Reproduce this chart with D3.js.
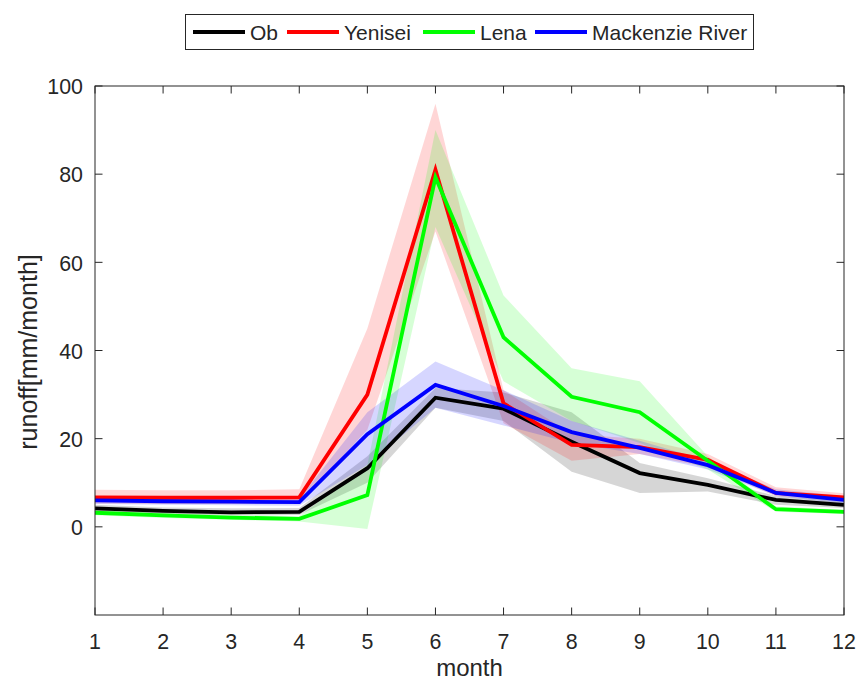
<!DOCTYPE html>
<html><head><meta charset="utf-8">
<script src="https://cdn.jsdelivr.net/npm/d3@7"></script>
<style>body{margin:0;background:#fff}svg{display:block}text{font-family:"Liberation Sans",Arial,Helvetica,sans-serif;fill:#262626}</style>
</head><body>
<script>
const months = [1,2,3,4,5,6,7,8,9,10,11,12];
const seriesNames = ["Ob","Yenisei","Lena","Mackenzie River"];
const seriesColors = ["#000000","#ff0000","#00ff00","#0000ff"];
const obMean   = [4.2,3.6,3.3,3.4,13.3,29.3,26.8,19.3,12.2,9.5,6.1,5.0];
const obUp     = [5.0,4.4,4.2,4.3,16.0,31.5,30.5,26.0,14.5,11.0,7.0,6.0];
const obLo     = [3.4,2.9,2.6,2.7,10.0,27.0,24.0,12.5,7.7,8.0,5.0,4.3];
const yenMean  = [6.7,6.6,6.6,6.7,30.0,81.0,28.0,18.6,18.1,15.2,7.7,6.7];
const yenUp    = [8.4,8.3,8.3,8.5,45.0,96.0,31.0,21.0,20.0,16.5,9.0,7.6];
const yenLo    = [5.3,5.2,5.2,5.3,22.0,67.0,23.5,15.0,16.5,13.5,7.0,5.9];
const lenaMean = [3.2,2.6,2.1,1.8,7.2,79.3,43.0,29.5,26.0,15.0,4.0,3.4];
const lenaUp   = [3.9,3.2,2.7,2.4,14.0,90.0,52.5,36.0,33.0,16.0,4.6,3.9];
const lenaLo   = [2.6,2.0,1.6,1.2,-0.5,68.0,33.0,24.0,19.0,13.0,3.4,2.9];
const macMean  = [6.0,5.8,5.7,5.6,21.0,32.2,27.4,21.5,17.9,14.0,7.7,6.1];
const macUp    = [6.8,6.6,6.5,6.4,26.0,37.5,31.0,24.0,19.5,15.0,8.5,7.0];
const macLo    = [5.2,5.0,4.9,4.8,14.0,27.0,23.0,19.0,16.5,13.0,7.0,5.3];
const yTicks = [0,20,40,60,80,100];
const xLabel = "month";
const yLabel = "runoff[mm/month]";

const means = [obMean, yenMean, lenaMean, macMean];
const ups = [obUp, yenUp, lenaUp, macUp];
const los = [obLo, yenLo, lenaLo, macLo];

const W = 858, H = 682;
const L = 95, R = 844, T = 86, B = 615;
const svg = d3.select("body").append("svg").attr("width", W).attr("height", H);
const x = d3.scaleLinear().domain([1,12]).range([L,R]);
const y = d3.scaleLinear().domain([-20,100]).range([B,T]);
const axisCol = "#262626";

svg.append("clipPath").attr("id","c").append("rect").attr("x",L).attr("y",T).attr("width",R-L).attr("height",B-T);
const plot = svg.append("g").attr("clip-path","url(#c)");

const area = d3.area().x((d,i)=>x(months[i])).y0(d=>y(d[0])).y1(d=>y(d[1]));
const line = d3.line().x((d,i)=>x(months[i])).y(d=>y(d));

seriesNames.forEach((n,k)=>{
  const band = months.map((m,i)=>[los[k][i], ups[k][i]]);
  plot.append("path").attr("d", area(band)).attr("fill", seriesColors[k]).attr("fill-opacity", 0.16).attr("stroke","none");
});
seriesNames.forEach((n,k)=>{
  plot.append("path").attr("d", line(means[k])).attr("fill","none").attr("stroke", seriesColors[k]).attr("stroke-width",3.8).attr("stroke-linejoin","miter");
});

// axes box & ticks
const tl = 7.5;
const ax = svg.append("g").attr("stroke", axisCol).attr("stroke-width",1).attr("fill","none");
ax.append("rect").attr("x",L).attr("y",T).attr("width",R-L).attr("height",B-T);
months.forEach(m=>{
  ax.append("line").attr("x1",x(m)).attr("x2",x(m)).attr("y1",B).attr("y2",B-tl);
  ax.append("line").attr("x1",x(m)).attr("x2",x(m)).attr("y1",T).attr("y2",T+tl);
});
yTicks.forEach(v=>{
  ax.append("line").attr("x1",L).attr("x2",L+tl).attr("y1",y(v)).attr("y2",y(v));
  ax.append("line").attr("x1",R).attr("x2",R-tl).attr("y1",y(v)).attr("y2",y(v));
});
const fs = 23, sx = 0.93;
months.forEach(m=>{
  svg.append("text").attr("transform",`translate(${x(m)},${B+33.5}) scale(${sx},1)`).attr("text-anchor","middle").attr("font-size",fs).text(m);
});
yTicks.forEach(v=>{
  svg.append("text").attr("transform",`translate(${L-12},${y(v)+8.3}) scale(${sx},1)`).attr("text-anchor","end").attr("font-size",fs).text(v);
});
svg.append("text").attr("x",(L+R)/2).attr("y",676).attr("text-anchor","middle").attr("font-size",24).text(xLabel);
svg.append("text").attr("transform","translate(37,352) rotate(-90)").attr("text-anchor","middle").attr("font-size",25).text(yLabel);

// legend
const lg = svg.append("g");
lg.append("rect").attr("x",185.5).attr("y",14.5).attr("width",568).attr("height",35).attr("fill","#fff").attr("stroke",axisCol).attr("stroke-width",1);
const legX = [193, 287, 423, 535];
seriesNames.forEach((n,k)=>{
  lg.append("line").attr("x1",legX[k]).attr("x2",legX[k]+52).attr("y1",32).attr("y2",32).attr("stroke",seriesColors[k]).attr("stroke-width",4);
  lg.append("text").attr("x",legX[k]+57).attr("y",40).attr("font-size",21).text(n);
});
</script>
</body></html>
